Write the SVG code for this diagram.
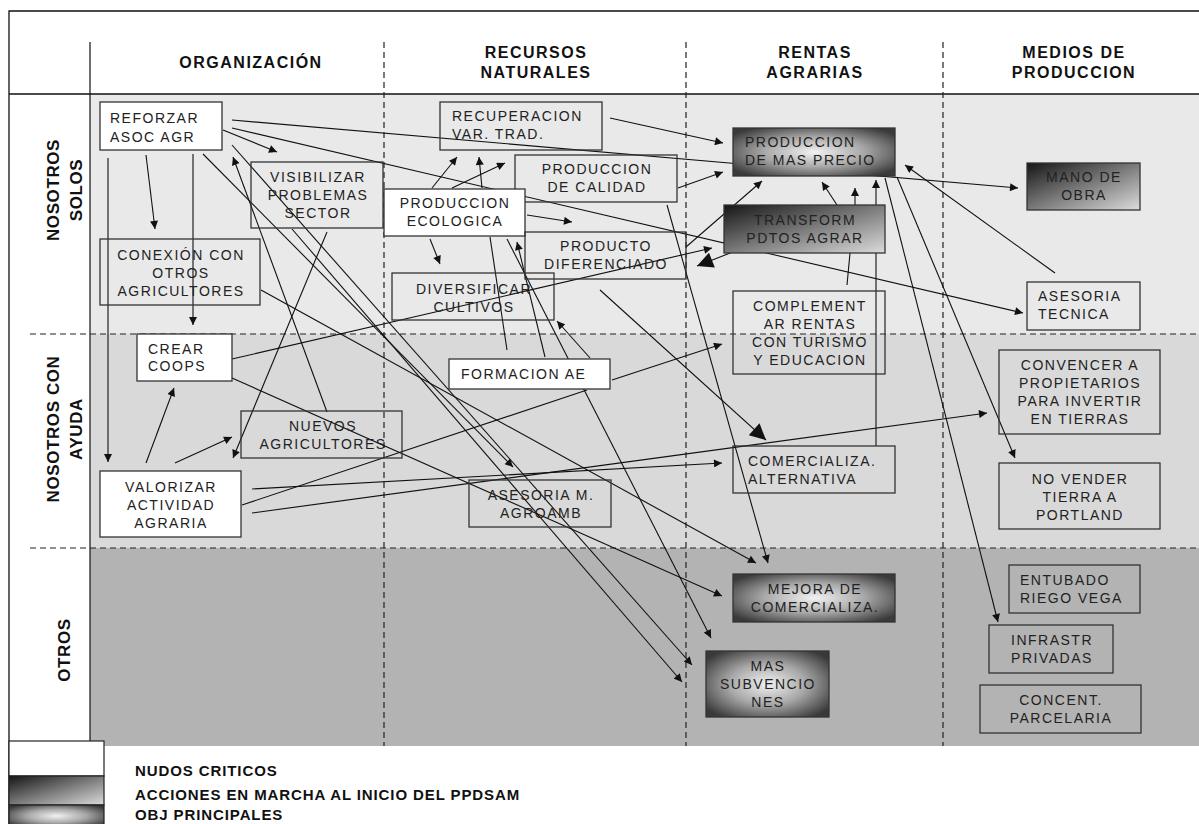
<svg xmlns="http://www.w3.org/2000/svg" width="1199" height="824" viewBox="0 0 1199 824">
  <defs>
    <style>
      .hdr { font-family: "Liberation Sans", Arial, sans-serif; font-weight: bold; font-size: 16px; letter-spacing: 1.5px; fill: #111; text-anchor: middle; }
      .row { font-family: "Liberation Sans", Arial, sans-serif; font-weight: bold; font-size: 17px; letter-spacing: 0.6px; fill: #111; text-anchor: middle; }
      .lbl { font-family: "Liberation Sans", Arial, sans-serif; font-size: 14px; letter-spacing: 1.5px; fill: #222; }
      .mid { text-anchor: middle; }
      .leg { font-family: "Liberation Sans", Arial, sans-serif; font-weight: bold; font-size: 15px; letter-spacing: 0.9px; fill: #111; }
      .box { stroke: #333; stroke-width: 1.3; }
      .plain { fill: none; }
      .white { fill: #fff; }
      .dash { stroke: #222; stroke-width: 1.2; stroke-dasharray: 6 4; fill: none; }
      .cn { stroke: #111; stroke-width: 1.1; fill: none; }
      .ar { marker-end: url(#ah); }
      .big { marker-end: url(#ahBig); }
    </style>
    <marker id="ah" viewBox="0 0 10 10" refX="10" refY="5" markerWidth="9" markerHeight="8" markerUnits="userSpaceOnUse" orient="auto">
      <path d="M0,0 L10,5 L0,10 z" fill="#111"/>
    </marker>
    <marker id="ahBig" viewBox="0 0 10 10" refX="10" refY="5" markerWidth="20" markerHeight="16" markerUnits="userSpaceOnUse" orient="auto">
      <path d="M0,0 L10,5 L0,10 z" fill="#111"/>
    </marker>
    <radialGradient id="gCentre" cx="0.5" cy="0.5" r="0.62">
      <stop offset="0" stop-color="#f2f2f2"/>
      <stop offset="0.5" stop-color="#a8a8a8"/>
      <stop offset="1" stop-color="#3a3a3a"/>
    </radialGradient>
    <linearGradient id="gDiag" x1="0" y1="0" x2="1" y2="1">
      <stop offset="0" stop-color="#151515"/>
      <stop offset="0.5" stop-color="#7a7a7a"/>
      <stop offset="1" stop-color="#dcdcdc"/>
    </linearGradient>
  </defs>

  <!-- page and bands -->
  <rect x="0" y="0" width="1199" height="824" fill="#fff"/>
  <rect x="90" y="94" width="1109" height="240" fill="#e9e9e9"/>
  <rect x="90" y="334" width="1109" height="214" fill="#d9d9d9"/>
  <rect x="90" y="548" width="1109" height="198" fill="#b3b3b3"/>

  <!-- grid -->
  <g id="grid">
    <path d="M9,824 L9,11 L1199,11" fill="none" stroke="#111" stroke-width="1.3"/>
    <line x1="9" y1="94" x2="1199" y2="94" stroke="#111" stroke-width="1.3"/>
    <line x1="90" y1="42" x2="90" y2="746" stroke="#111" stroke-width="1.2"/>
    <line class="dash" x1="30" y1="334" x2="1199" y2="334"/>
    <line class="dash" x1="30" y1="548" x2="1199" y2="548"/>
    <line class="dash" x1="384" y1="42" x2="384" y2="746"/>
    <line class="dash" x1="686" y1="42" x2="686" y2="746"/>
    <line class="dash" x1="943" y1="42" x2="943" y2="746"/>
  </g>

  <!-- column headings -->
  <g id="headings">
    <text class="hdr" x="251" y="68">ORGANIZACIÓN</text>
    <text class="hdr" x="536" y="58">RECURSOS</text>
    <text class="hdr" x="536" y="78">NATURALES</text>
    <text class="hdr" x="815" y="58">RENTAS</text>
    <text class="hdr" x="815" y="78">AGRARIAS</text>
    <text class="hdr" x="1074" y="58">MEDIOS DE</text>
    <text class="hdr" x="1074" y="78">PRODUCCION</text>
  </g>

  <!-- row headings -->
  <g id="rows">
    <text class="row" transform="translate(59,190) rotate(-90)">NOSOTROS</text>
    <text class="row" transform="translate(82,190) rotate(-90)">SOLOS</text>
    <text class="row" transform="translate(59,429) rotate(-90)">NOSOTROS CON</text>
    <text class="row" transform="translate(82,429) rotate(-90)">AYUDA</text>
    <text class="row" transform="translate(70,650) rotate(-90)">OTROS</text>
  </g>

  <!-- connectors -->
  <g id="connectors">
    <line class="cn ar" x1="108" y1="158" x2="108" y2="462"/>
    <line class="cn ar" x1="146" y1="155" x2="155" y2="229"/>
    <line class="cn ar" x1="193" y1="154" x2="193" y2="325"/>
    <line class="cn ar" x1="223" y1="130" x2="277" y2="152"/>
    <line class="cn ar" x1="327" y1="412" x2="233" y2="157"/>
    <line class="cn ar" x1="327" y1="232" x2="233" y2="458"/>
    <line class="cn ar" x1="146" y1="463" x2="174" y2="388"/>
    <line class="cn ar" x1="175" y1="463" x2="232" y2="437"/>
    <line class="cn ar" x1="252" y1="489" x2="722" y2="463"/>
    <line class="cn ar" x1="252" y1="513" x2="987" y2="413"/>
    <line class="cn" x1="242" y1="505" x2="587" y2="390"/>
    <line class="cn ar" x1="612" y1="380" x2="722" y2="344"/>
    <line class="cn big" x1="600" y1="290" x2="766" y2="440"/>
    <line class="cn ar" x1="876" y1="446" x2="876" y2="180"/>
    <line class="cn ar" x1="837" y1="205" x2="822" y2="182"/>
    <line class="cn" x1="847" y1="285" x2="850" y2="253"/>
    <line class="cn ar" x1="855" y1="205" x2="855" y2="188"/>
    <line class="cn ar" x1="686" y1="247" x2="762" y2="181"/>
    <line class="cn ar" x1="678" y1="188" x2="723" y2="172"/>
    <line class="cn ar" x1="610" y1="118" x2="723" y2="143"/>
    <line class="cn ar" x1="432" y1="188" x2="457" y2="157"/>
    <line class="cn ar" x1="482" y1="188" x2="479" y2="157"/>
    <line class="cn ar" x1="452" y1="188" x2="505" y2="163"/>
    <line class="cn ar" x1="527" y1="215" x2="572" y2="222"/>
    <line class="cn ar" x1="430" y1="239" x2="440" y2="264"/>
    <line class="cn" x1="490" y1="237" x2="507" y2="350"/>
    <line class="cn ar" x1="507" y1="239" x2="711" y2="638"/>
    <line class="cn ar" x1="545" y1="357" x2="517" y2="242"/>
    <line class="cn ar" x1="590" y1="358" x2="557" y2="321"/>
    <line class="cn ar" x1="667" y1="205" x2="768" y2="563"/>
    <line class="cn ar" x1="885" y1="178" x2="998" y2="622"/>
    <line class="cn ar" x1="897" y1="177" x2="1015" y2="458"/>
    <line class="cn ar" x1="1055" y1="273" x2="905" y2="165"/>
    <line class="cn ar" x1="232" y1="120" x2="1018" y2="188"/>
    <line class="cn ar" x1="232" y1="128" x2="1023" y2="313"/>
    <line class="cn ar" x1="232" y1="359" x2="712" y2="248"/>
    <line class="cn big" x1="743" y1="248" x2="697" y2="266"/>
    <line class="cn ar" x1="203" y1="154" x2="513" y2="467"/>
    <line class="cn ar" x1="232" y1="145" x2="692" y2="665"/>
    <line class="cn ar" x1="292" y1="229" x2="682" y2="682"/>
    <line class="cn ar" x1="232" y1="378" x2="722" y2="596"/>
    <line class="cn ar" x1="261" y1="290" x2="756" y2="563"/>
  </g>

  <!-- ORGANIZACIÓN -->
  <g id="reforzar-asoc"><rect class="box white" x="100" y="102" width="122" height="48"/><text class="lbl" x="110" y="123">REFORZAR</text><text class="lbl" x="110" y="142">ASOC AGR</text></g>
  <g id="visibilizar"><rect class="box plain" x="251" y="162" width="132" height="66"/><text class="lbl mid" x="318" y="182">VISIBILIZAR</text><text class="lbl mid" x="318" y="200">PROBLEMAS</text><text class="lbl mid" x="318" y="218">SECTOR</text></g>
  <g id="conexion"><rect class="box plain" x="100" y="239" width="160" height="66"/><text class="lbl mid" x="181" y="260">CONEXIÓN CON</text><text class="lbl mid" x="181" y="278">OTROS</text><text class="lbl mid" x="181" y="296">AGRICULTORES</text></g>
  <g id="crear-coops"><rect class="box white" x="137" y="334" width="95" height="47"/><text class="lbl" x="148" y="354">CREAR</text><text class="lbl" x="148" y="371">COOPS</text></g>
  <g id="nuevos-agric"><rect class="box plain" x="241" y="411" width="161" height="47"/><text class="lbl mid" x="323" y="431">NUEVOS</text><text class="lbl mid" x="323" y="449">AGRICULTORES</text></g>
  <g id="valorizar"><rect class="box white" x="100" y="471" width="141" height="66"/><text class="lbl mid" x="171" y="492">VALORIZAR</text><text class="lbl mid" x="171" y="510">ACTIVIDAD</text><text class="lbl mid" x="171" y="528">AGRARIA</text></g>

  <!-- RECURSOS NATURALES -->
  <g id="recuperacion"><rect class="box plain" x="440" y="102" width="162" height="48"/><text class="lbl" x="452" y="121">RECUPERACION</text><text class="lbl" x="452" y="139">VAR. TRAD.</text></g>
  <g id="prod-calidad"><rect class="box plain" x="515" y="155" width="162" height="47"/><text class="lbl mid" x="597" y="174">PRODUCCION</text><text class="lbl mid" x="597" y="192">DE CALIDAD</text></g>
  <g id="prod-ecologica"><rect class="box white" x="384" y="189" width="141" height="47"/><text class="lbl mid" x="455" y="208">PRODUCCION</text><text class="lbl mid" x="455" y="226">ECOLOGICA</text></g>
  <g id="producto-dif"><rect class="box plain" x="525" y="232" width="161" height="47"/><text class="lbl mid" x="606" y="251">PRODUCTO</text><text class="lbl mid" x="606" y="269">DIFERENCIADO</text></g>
  <g id="diversificar"><rect class="box plain" x="392" y="273" width="162" height="47"/><text class="lbl mid" x="474" y="294">DIVERSIFICAR</text><text class="lbl mid" x="474" y="312">CULTIVOS</text></g>
  <g id="formacion-ae"><rect class="box white" x="449" y="359" width="161" height="30"/><text class="lbl" x="461" y="379">FORMACION AE</text></g>
  <g id="asesoria-agroamb"><rect class="box plain" x="469" y="480" width="142" height="47"/><text class="lbl mid" x="541" y="500">ASESORIA M.</text><text class="lbl mid" x="541" y="518">AGROAMB</text></g>

  <!-- RENTAS AGRARIAS -->
  <g id="mas-precio"><rect class="box" fill="url(#gCentre)" x="733" y="128" width="162" height="48"/><text class="lbl" x="745" y="147">PRODUCCION</text><text class="lbl" x="745" y="165">DE MAS PRECIO</text></g>
  <g id="transform"><rect class="box" fill="url(#gDiag)" x="724" y="205" width="161" height="48"/><text class="lbl mid" x="805" y="225">TRANSFORM</text><text class="lbl mid" x="805" y="243">PDTOS AGRAR</text></g>
  <g id="complementar"><rect class="box plain" x="733" y="291" width="152" height="83"/><text class="lbl mid" x="810" y="311">COMPLEMENT</text><text class="lbl mid" x="810" y="329">AR RENTAS</text><text class="lbl mid" x="810" y="347">CON TURISMO</text><text class="lbl mid" x="810" y="365">Y EDUCACION</text></g>
  <g id="comercializa-alt"><rect class="box plain" x="733" y="446" width="162" height="47"/><text class="lbl" x="748" y="466">COMERCIALIZA.</text><text class="lbl" x="748" y="484">ALTERNATIVA</text></g>
  <g id="mejora-comerc"><rect class="box" fill="url(#gCentre)" x="733" y="574" width="162" height="48"/><text class="lbl mid" x="815" y="594">MEJORA DE</text><text class="lbl mid" x="815" y="612">COMERCIALIZA.</text></g>
  <g id="mas-subvenciones"><rect class="box" fill="url(#gCentre)" x="706" y="651" width="123" height="66"/><text class="lbl mid" x="768" y="671">MAS</text><text class="lbl mid" x="768" y="689">SUBVENCIO</text><text class="lbl mid" x="768" y="707">NES</text></g>

  <!-- MEDIOS DE PRODUCCION -->
  <g id="mano-obra"><rect class="box" fill="url(#gDiag)" x="1027" y="163" width="113" height="47"/><text class="lbl mid" x="1084" y="182">MANO DE</text><text class="lbl mid" x="1084" y="200">OBRA</text></g>
  <g id="asesoria-tecnica"><rect class="box plain" x="1027" y="282" width="113" height="48"/><text class="lbl" x="1038" y="301">ASESORIA</text><text class="lbl" x="1038" y="319">TECNICA</text></g>
  <g id="convencer"><rect class="box plain" x="999" y="350" width="161" height="84"/><text class="lbl mid" x="1080" y="370">CONVENCER A</text><text class="lbl mid" x="1080" y="388">PROPIETARIOS</text><text class="lbl mid" x="1080" y="406">PARA INVERTIR</text><text class="lbl mid" x="1080" y="424">EN  TIERRAS</text></g>
  <g id="no-vender"><rect class="box plain" x="999" y="463" width="161" height="66"/><text class="lbl mid" x="1080" y="484">NO VENDER</text><text class="lbl mid" x="1080" y="502">TIERRA A</text><text class="lbl mid" x="1080" y="520">PORTLAND</text></g>
  <g id="entubado"><rect class="box plain" x="1009" y="565" width="131" height="48"/><text class="lbl" x="1020" y="585">ENTUBADO</text><text class="lbl" x="1020" y="603">RIEGO VEGA</text></g>
  <g id="infrastr"><rect class="box plain" x="989" y="625" width="124" height="48"/><text class="lbl mid" x="1052" y="645">INFRASTR</text><text class="lbl mid" x="1052" y="663">PRIVADAS</text></g>
  <g id="concent"><rect class="box plain" x="980" y="685" width="161" height="48"/><text class="lbl mid" x="1061" y="705">CONCENT.</text><text class="lbl mid" x="1061" y="723">PARCELARIA</text></g>

  <!-- legend -->
  <g id="legend">
    <rect x="9" y="741" width="95" height="35" fill="#fff" stroke="#222" stroke-width="1.2"/>
    <rect x="9" y="776" width="95" height="29" fill="url(#gDiag)" stroke="#222" stroke-width="1.2"/>
    <rect x="9" y="805" width="95" height="22" fill="url(#gCentre)" stroke="#222" stroke-width="1.2"/>
    <text class="leg" x="135" y="776">NUDOS CRITICOS</text>
    <text class="leg" x="135" y="800">ACCIONES EN MARCHA AL INICIO DEL PPDSAM</text>
    <text class="leg" x="135" y="820">OBJ PRINCIPALES</text>
  </g>
</svg>
